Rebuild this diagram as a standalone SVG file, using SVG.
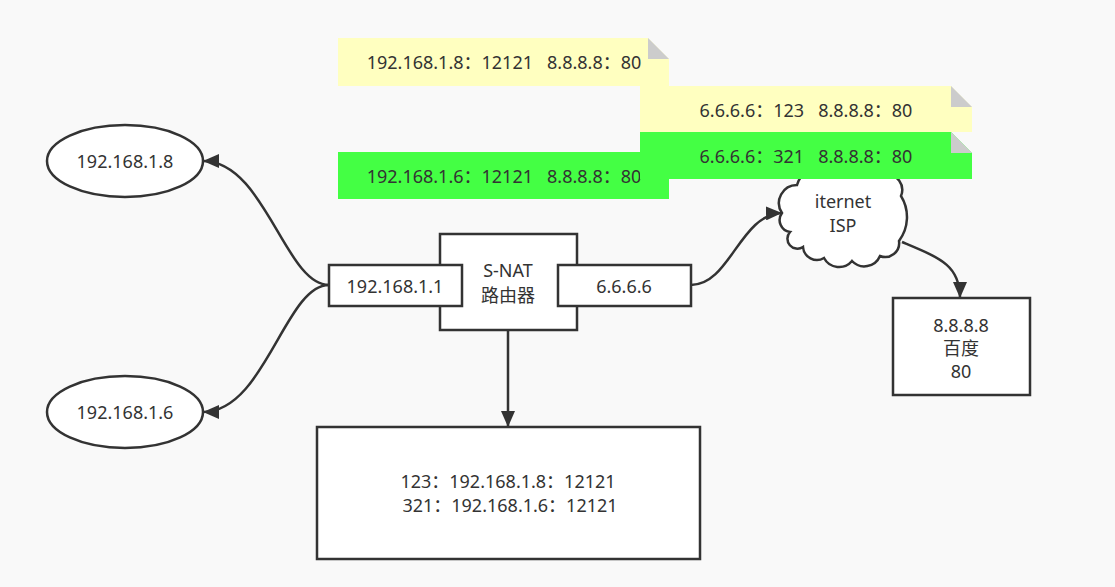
<svg xmlns="http://www.w3.org/2000/svg" width="1115" height="587" viewBox="0 0 1115 587" xml:space="preserve">
<defs>
<style>
.bg{fill:#f9f9f9}
.n{fill:#ffffff;stroke:#333333;stroke-width:2.5}
.t{font-family:"Noto Sans","Noto Sans CJK SC",sans-serif;font-size:18px;fill:#333333;text-anchor:middle;dominant-baseline:central;white-space:pre}
.e{fill:none;stroke:#333333;stroke-width:2.5}
.y{fill:#ffffc0}
.g{fill:#44ff44}
.fold{fill:#cccccc}
</style>
<marker id="arr" viewBox="0 0 16 14" refX="16" refY="7" markerWidth="16" markerHeight="14" markerUnits="userSpaceOnUse" orient="auto">
<path d="M0,0 L16,7 L0,14 Z" fill="#333333"/>
</marker>
</defs>
<rect class="bg" x="0" y="0" width="1115" height="587"/>

<g id="connectors">
<path class="e" d="M329,285 C285,285 265,161 203,161" marker-end="url(#arr)"/>
<path class="e" d="M329,285 C285,285 265,412 203,412" marker-end="url(#arr)"/>
<path class="e" d="M691,285 C730,285 740,214 782,213" marker-end="url(#arr)"/>
<path class="e" d="M902,242 C940,258 960,265 960,298" marker-end="url(#arr)"/>
<path class="e" d="M508,330 L508,427" marker-end="url(#arr)"/>
</g>

<g id="host1">
<ellipse class="n" cx="125" cy="161" rx="78" ry="36"/>
<text class="t" x="125" y="161">192.168.1.8</text>
</g>
<g id="host2">
<ellipse class="n" cx="125" cy="412" rx="78" ry="36"/>
<text class="t" x="125" y="412">192.168.1.6</text>
</g>

<g id="router">
<rect class="n" x="440" y="234" width="137" height="96"/>
<text class="t" x="508" y="270">S-NAT</text>
<text class="t" x="508" y="295">路由器</text>
</g>
<g id="lan-port">
<rect class="n" x="329" y="265" width="133" height="41"/>
<text class="t" x="395" y="286">192.168.1.1</text>
</g>
<g id="wan-port">
<rect class="n" x="558" y="265" width="133" height="41"/>
<text class="t" x="624" y="286">6.6.6.6</text>
</g>

<g id="nat-table">
<rect class="n" x="317" y="427" width="383" height="132"/>
<text class="t" x="508" y="481">123：192.168.1.8：12121</text>
<text class="t" x="510" y="505">321：192.168.1.6：12121</text>
</g>

<g id="cloud">
<path class="n" d="M782,213 A18,18 0 0 1 797,185 A20,20 0 0 1 825,172 A20,20 0 0 1 858,170 A18,18 0 0 1 885,174 A16,16 0 0 1 901,196 A40,40 0 0 1 899,241 A14,14 0 0 1 880,256 A17,17 0 0 1 852,261 A17,17 0 0 1 824,258 A14,14 0 0 1 803,247 A10,10 0 0 1 790,232 A12,12 0 0 1 782,213 Z"/>
<text class="t" x="843" y="201">iternet</text>
<text class="t" x="843" y="225">ISP</text>
</g>

<g id="server">
<rect class="n" x="893" y="298" width="137" height="97"/>
<text class="t" x="961" y="325">8.8.8.8</text>
<text class="t" x="961" y="348">百度</text>
<text class="t" x="961" y="371">80</text>
</g>

<g id="note1">
<path class="y" d="M338,38 L648,38 L669,59 L669,86 L338,86 Z"/>
<path class="fold" d="M648,38 L648,59 L669,59 Z"/>
<text class="t" x="504" y="62">192.168.1.8：12121   8.8.8.8：80</text>
</g>
<g id="note2">
<path class="y" d="M640,86 L951,86 L972,107 L972,132 L640,132 Z"/>
<path class="fold" d="M951,86 L951,107 L972,107 Z"/>
<text class="t" x="806" y="110">6.6.6.6：123   8.8.8.8：80</text>
</g>
<g id="note4">
<path class="g" d="M338,152 L648,152 L669,173 L669,199 L338,199 Z"/>
<text class="t" x="504" y="176">192.168.1.6：12121   8.8.8.8：80</text>
</g>
<g id="note3">
<path class="g" d="M640,132 L951,132 L972,153 L972,179 L640,179 Z"/>
<path class="fold" d="M951,132 L951,153 L972,153 Z"/>
<text class="t" x="806" y="156">6.6.6.6：321   8.8.8.8：80</text>
</g>
</svg>
